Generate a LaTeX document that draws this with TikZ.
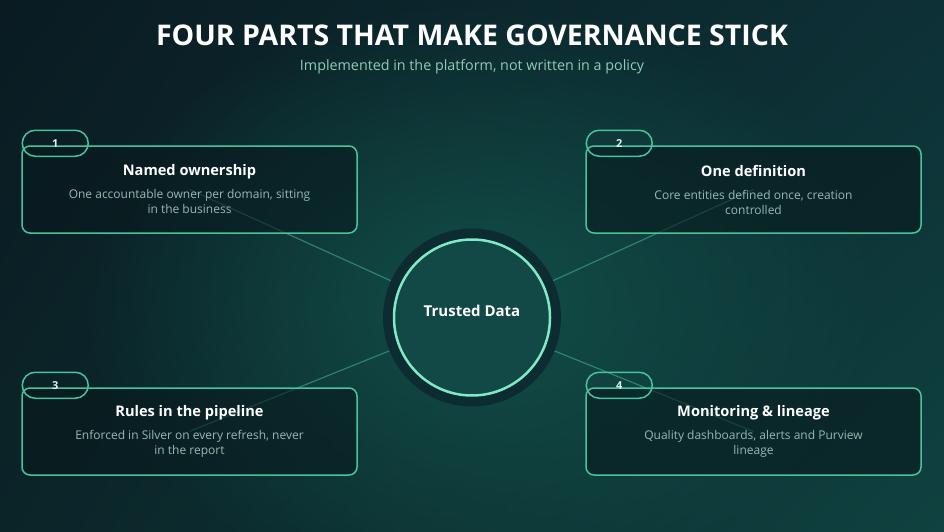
\documentclass[tikz,border=0pt]{standalone}
\usepackage{fontspec}
\setmainfont{Open Sans}
\usetikzlibrary{backgrounds,fadings,shadings}
\definecolor{bgtl}{HTML}{0A1B22}
\definecolor{bgtr}{HTML}{0D3036}
\definecolor{bgbl}{HTML}{0B2428}
\definecolor{bgbr}{HTML}{0F4240}
\definecolor{bgglow}{HTML}{13524B}
\definecolor{mint}{HTML}{48C49C}
\definecolor{mintlight}{HTML}{7EEBC6}
\definecolor{boxfill}{HTML}{08191D}
\definecolor{ringdark}{HTML}{0C2C31}
\definecolor{corefill}{HTML}{124845}
\definecolor{subtext}{HTML}{8FCDB6}
\definecolor{desctext}{HTML}{98B8B2}
\definecolor{badgetext}{HTML}{D8F5EA}
\tikzfading[name=glowfade, inner color=transparent!0, outer color=transparent!100]
\newcommand{\blocktitle}{\bfseries\fontsize{14.6}{18}\selectfont\color{white}}
\tikzstyle{block} = [rectangle, draw=mint, line width=1.5pt, fill=boxfill,
    fill opacity=0.6, text opacity=1, rounded corners=8pt, align=center,
    minimum width=335pt, minimum height=87pt, text=desctext,
    font=\fontsize{12}{15}\selectfont]
\tikzstyle{badge} = [rectangle, draw=mint, line width=1.5pt, rounded corners=13pt,
    minimum width=66pt, minimum height=26pt, text=badgetext,
    font=\bfseries\fontsize{11}{13}\selectfont]
\tikzstyle{core} = [circle, draw=mintlight, line width=2.5pt, fill=corefill,
    minimum size=156pt, text=white, font=\bfseries\fontsize{15}{18}\selectfont,
    preaction={draw=ringdark, line width=22pt}]
\tikzstyle{line} = [draw=mint, line width=1.2pt, draw opacity=0.5]

\begin{document}
\begin{tikzpicture}[x=1pt, y=-1pt]
    \useasboundingbox (0,0) rectangle (944,532);

    % Place nodes
    \node[text=white, font=\bfseries\fontsize{28.5}{32}\selectfont] (title) at (472,35)
        {FOUR PARTS THAT MAKE GOVERNANCE STICK};
    \node[text=subtext, font=\fontsize{14.3}{17}\selectfont] (subtitle) at (472,67)
        {Implemented in the platform, not written in a policy};
    \node[core] (trust) at (472,317.5) {\raisebox{14pt}{Trusted Data}};
    \node[block] (own) at (189.5,189.5) {{\blocktitle Named ownership}\\[8pt]
        One accountable owner per domain, sitting\\in the business};
    \node[block] (def) at (753.5,189.5) {{\blocktitle One definition}\\[8pt]
        Core entities defined once, creation\\controlled};
    \node[block] (rules) at (189.5,431.5) {{\blocktitle Rules in the pipeline}\\[8pt]
        Enforced in Silver on every refresh, never\\in the report};
    \node[block] (watch) at (753.5,431.5) {{\blocktitle Monitoring \& lineage}\\[8pt]
        Quality dashboards, alerts and Purview\\lineage};
    \node[badge] (n1) at ([shift={(34,-2)}]own.north west) {1};
    \node[badge] (n2) at ([shift={(34,-2)}]def.north west) {2};
    \node[badge] (n3) at ([shift={(34,-2)}]rules.north west) {3};
    \node[badge] (n4) at ([shift={(34,-2)}]watch.north west) {4};

    % Background and edges
    \begin{scope}[on background layer]
    \shade[upper left=bgtl, upper right=bgtr, lower left=bgbl, lower right=bgbr]
        (0,0) rectangle (944,532);
    \fill[bgglow, path fading=glowfade, fill opacity=0.9] (480,300) ellipse (400 and 300);
    \path[line] (trust.center) -- (own.center);
    \path[line] (trust.center) -- (def.center);
    \path[line] (trust.center) -- (rules.center);
    \path[line] (trust.center) -- (watch.center);
    \end{scope}
\end{tikzpicture}
\end{document}
